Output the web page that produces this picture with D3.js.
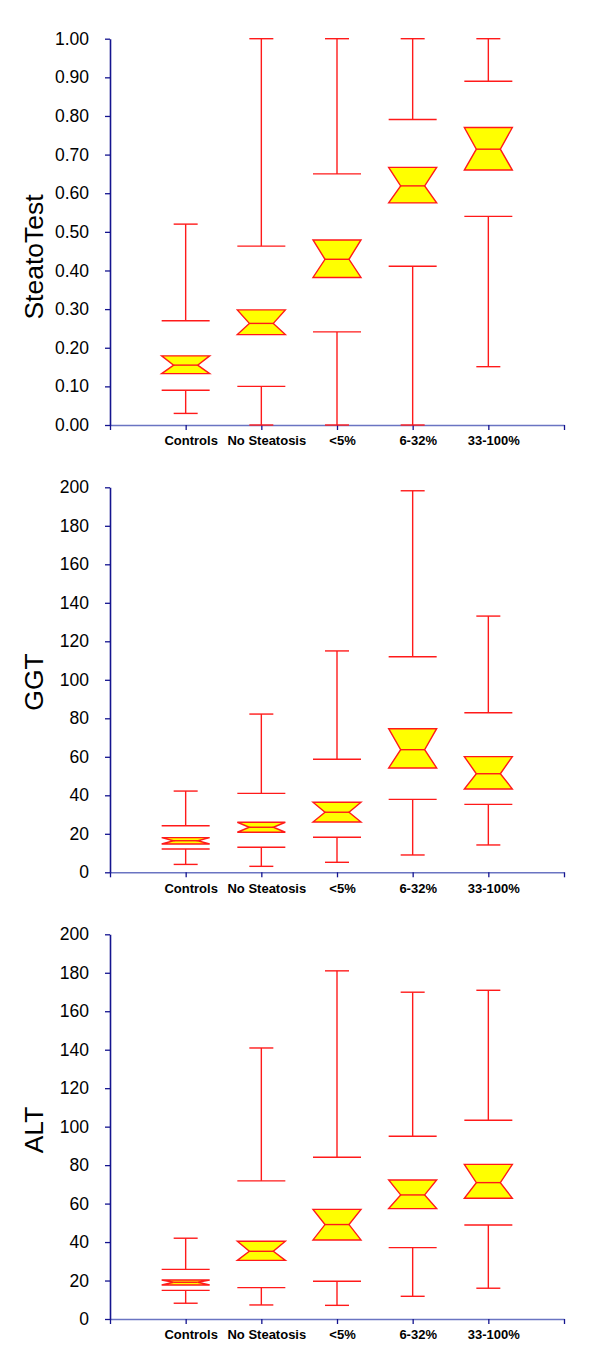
<!DOCTYPE html>
<html>
<head>
<meta charset="utf-8">
<script src="https://cdn.jsdelivr.net/npm/d3@7"></script>
<style>
  html, body { margin: 0; padding: 0; background: #fff; }
  svg { display: block; }
  text { font-family: "Liberation Sans", Arial, sans-serif; }
</style>
</head>
<body>
<svg id="chart" width="600" height="1366"></svg>
<script>
// Categories (histological steatosis grade)
const categories = ["Controls", "No Steatosis", "<5%", "6-32%", "33-100%"];

// Each row: [lowOuter, lowInner, Q1, median, Q3, highInner, highOuter]
const steatoTestStats = [
  [0.03, 0.09, 0.133, 0.155, 0.179, 0.27, 0.52],
  [0.00, 0.10, 0.234, 0.263, 0.298, 0.463, 1.00],
  [0.00, 0.241, 0.382, 0.429, 0.479, 0.65, 1.00],
  [0.00, 0.411, 0.575, 0.619, 0.667, 0.791, 1.00],
  [0.151, 0.54, 0.66, 0.714, 0.77, 0.89, 1.00]
];
const ggtStats = [
  [4.1, 12.1, 14.7, 16.4, 18.0, 24.2, 42.2],
  [3.1, 13.0, 20.8, 23.4, 26.0, 41.0, 82.2],
  [5.2, 18.2, 26.1, 31.2, 36.4, 58.7, 115.0],
  [9.0, 37.9, 54.2, 63.7, 74.6, 112.0, 198.2],
  [14.2, 35.3, 43.3, 51.2, 60.1, 82.9, 133.1]
];
const altStats = [
  [8.2, 14.9, 17.7, 19.1, 20.3, 25.8, 42.0],
  [7.3, 16.3, 30.5, 35.2, 40.4, 71.8, 140.9],
  [7.1, 19.6, 41.1, 49.1, 57.0, 84.1, 181.0],
  [11.8, 37.1, 57.4, 64.5, 72.3, 95.0, 169.9],
  [16.0, 48.9, 62.8, 70.9, 80.4, 103.3, 170.9]
];

// Tick values
const steatoTicks = [0, 0.1, 0.2, 0.3, 0.4, 0.5, 0.6, 0.7, 0.8, 0.9, 1.0];
const enzymeTicks = [0, 20, 40, 60, 80, 100, 120, 140, 160, 180, 200];

const panels = [
  { title: "SteatoTest", stats: steatoTestStats, ticks: steatoTicks, domain: [0, 1], fmt: d3.format(".2f"),
    top: 38.7, bottom: 425, titleY: 257 },
  { title: "GGT", stats: ggtStats, ticks: enzymeTicks, domain: [0, 200], fmt: d3.format("d"),
    top: 487.3, bottom: 872.3, titleY: 682 },
  { title: "ALT", stats: altStats, ticks: enzymeTicks, domain: [0, 200], fmt: d3.format("d"),
    top: 934.3, bottom: 1319, titleY: 1130 }
];

const svg = d3.select("#chart");
const RED = "#ff1a1a";
const YAXIS = "#14148f";
const XAXIS = "#6a74c2";
const x = d3.scaleLinear().domain([0, 6]).range([110, 564]);
const boxHW = 24, notchIn = 12, capHW = 12;

panels.forEach(p => {
  const y = d3.scaleLinear().domain(p.domain).range([p.bottom, p.top]);
  const g = svg.append("g");

  // x axis
  const xa = g.append("g")
    .attr("transform", `translate(0,${p.bottom})`)
    .call(d3.axisBottom(x).tickValues([0, 1, 2, 3, 4, 5, 6])
      .tickSize(5).tickSizeOuter(0)
      .tickFormat(i => (i >= 1 && i <= 5) ? categories[i - 1] : ""));
  xa.select(".domain").attr("stroke", XAXIS).attr("stroke-width", 1.6);
  xa.selectAll(".tick line").attr("stroke", YAXIS).attr("stroke-width", 1.3);
  xa.selectAll(".tick text")
    .attr("fill", "#000").attr("font-size", 13).attr("font-weight", "bold")
    .attr("y", 11).attr("dx", 5).attr("dy", "0.71em");

  // y axis
  const ya = g.append("g")
    .attr("transform", `translate(110,0)`)
    .call(d3.axisLeft(y).tickValues(p.ticks).tickSize(5).tickSizeOuter(0).tickPadding(16).tickFormat(p.fmt));
  ya.select(".domain").attr("stroke", YAXIS).attr("stroke-width", 1.6);
  ya.selectAll(".tick line").attr("stroke", YAXIS).attr("stroke-width", 1.3);
  ya.selectAll(".tick text").attr("fill", "#000").attr("font-size", 17.5);

  // y axis title
  g.append("text")
    .attr("transform", `translate(43,${p.titleY}) rotate(-90)`)
    .attr("text-anchor", "middle")
    .attr("font-size", 26.5)
    .attr("fill", "#000")
    .text(p.title);

  // boxes
  p.stats.forEach((s, i) => {
    const cx = x(i + 1);
    const [lo, loIn, q1, med, q3, hiIn, hi] = s;
    const bg = g.append("g").attr("stroke", RED).attr("stroke-width", 1.4).attr("fill", "none");
    // upper whisker
    bg.append("line").attr("x1", cx).attr("x2", cx).attr("y1", y(hiIn)).attr("y2", y(hi));
    bg.append("line").attr("x1", cx - capHW).attr("x2", cx + capHW).attr("y1", y(hi)).attr("y2", y(hi));
    bg.append("line").attr("x1", cx - boxHW).attr("x2", cx + boxHW).attr("y1", y(hiIn)).attr("y2", y(hiIn));
    // lower whisker
    bg.append("line").attr("x1", cx).attr("x2", cx).attr("y1", y(loIn)).attr("y2", y(lo));
    bg.append("line").attr("x1", cx - capHW).attr("x2", cx + capHW).attr("y1", y(lo)).attr("y2", y(lo));
    bg.append("line").attr("x1", cx - boxHW).attr("x2", cx + boxHW).attr("y1", y(loIn)).attr("y2", y(loIn));
    // notched box (hourglass)
    const pts = [
      [cx - boxHW, y(q3)], [cx + boxHW, y(q3)],
      [cx + boxHW - notchIn, y(med)],
      [cx + boxHW, y(q1)], [cx - boxHW, y(q1)],
      [cx - boxHW + notchIn, y(med)]
    ];
    bg.append("polygon").attr("points", pts.map(d => d.join(",")).join(" "))
      .attr("fill", "#ffff00").attr("stroke-linejoin", "miter");
    bg.append("line").attr("x1", cx - boxHW + notchIn).attr("x2", cx + boxHW - notchIn)
      .attr("y1", y(med)).attr("y2", y(med));
  });
});
</script>
</body>
</html>
